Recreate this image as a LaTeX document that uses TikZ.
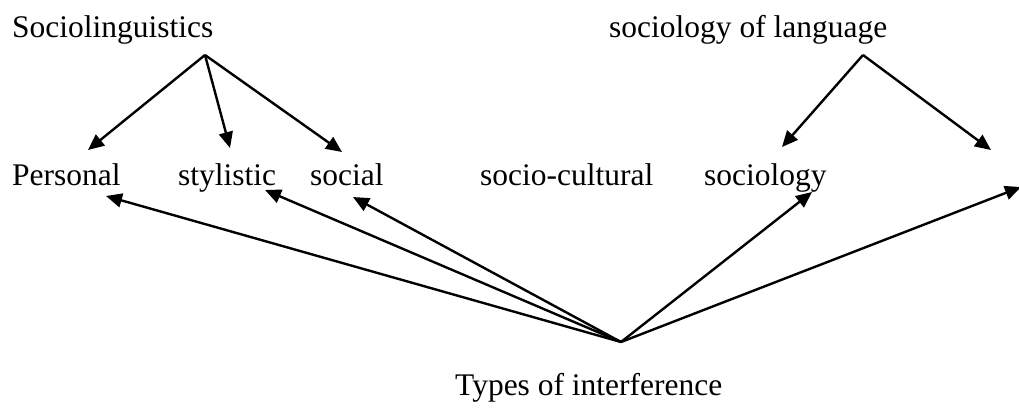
\documentclass[tikz,border=0pt]{standalone}
\usepackage{fontspec}
\setmainfont{Liberation Serif}
\usetikzlibrary{arrows.meta}

\begin{document}
\begin{tikzpicture}[x=1bp,y=-1bp,
    label/.style={anchor=base west,inner sep=0pt,font=\fontsize{31.6}{38}\selectfont},
    link/.style={line width=2.4bp,-{Triangle[length=16bp,width=14bp]}}]
      \useasboundingbox (0,0) rectangle (1019,412);
      \draw
        (12,37) node[label] (socling){Sociolinguistics}
        (609,37) node[label] (soclang){sociology of language}
        (12,185) node[label] (personal){Personal}
        (178,185) node[label] (stylistic){stylistic}
        (310,185) node[label] (social){social}
        (480,185) node[label] (cultural){socio-cultural}
        (704,185) node[label] (sociology){sociology}
        (455,395) node[label] (types){Types of interference};
      % fan points
      \coordinate (a) at (205,55);
      \coordinate (b) at (863,55);
      \coordinate (c) at (621,342);
      % arrow tips
      \coordinate (p1) at (88,150);
      \coordinate (s1) at (230,148);
      \coordinate (o1) at (342,152);
      \coordinate (g1) at (782,147);
      \coordinate (r1) at (991,150);
      \coordinate (p2) at (106,196);
      \coordinate (s2) at (265,190);
      \coordinate (o2) at (353,197);
      \coordinate (g2) at (812,192);
      \coordinate (r2) at (1021,187);
      \begin{scope}[link]
        \draw (a) -- (p1);
        \draw (a) -- (s1);
        \draw (a) -- (o1);
        \draw (b) -- (g1);
        \draw (b) -- (r1);
        \draw (c) -- (p2);
        \draw (c) -- (s2);
        \draw (c) -- (o2);
        \draw (c) -- (g2);
        \draw (c) -- (r2);
      \end{scope}
    \end{tikzpicture}
\end{document}
